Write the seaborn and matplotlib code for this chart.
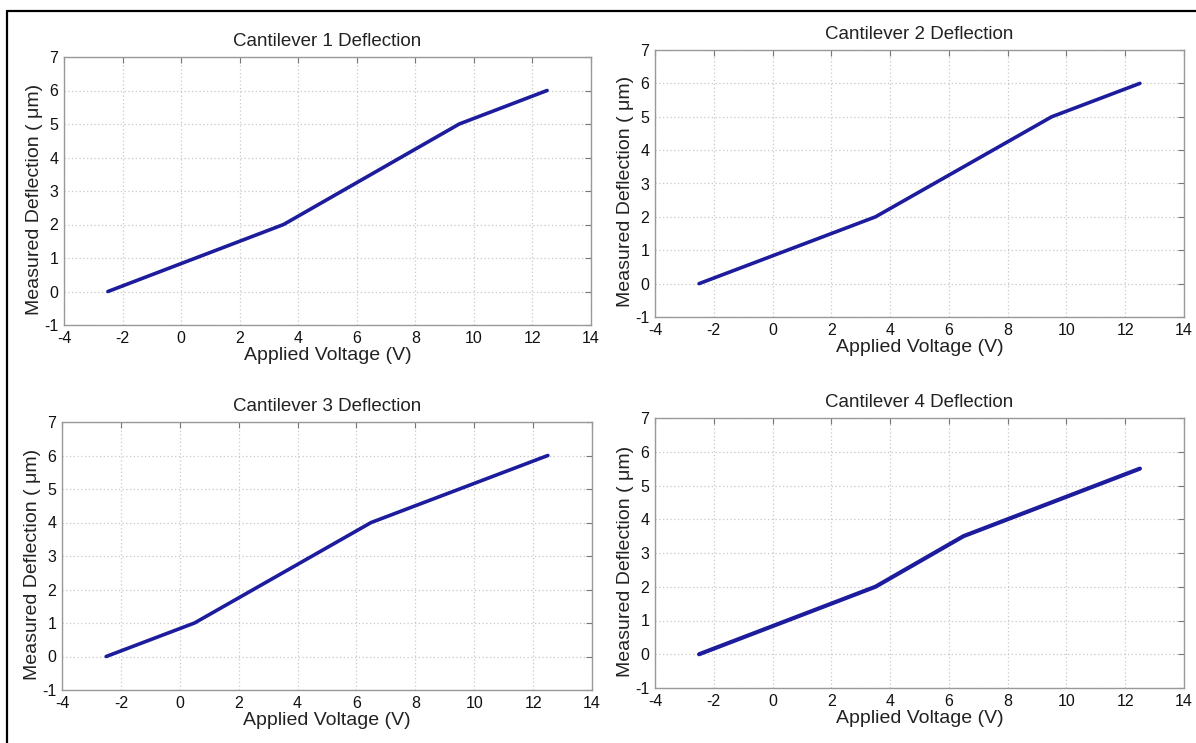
import matplotlib
matplotlib.use("Agg")
import matplotlib.pyplot as plt
import seaborn as sns
import pandas as pd
from matplotlib.lines import Line2D

# Data
titles = ["Cantilever 1 Deflection", "Cantilever 2 Deflection",
          "Cantilever 3 Deflection", "Cantilever 4 Deflection"]
volt_1 = [-2.5, 3.5, 9.5, 12.5]
defl_1 = [0.0, 2.0, 5.0, 6.0]
volt_2 = [-2.5, 3.5, 9.5, 12.5]
defl_2 = [0.0, 2.0, 5.0, 6.0]
volt_3 = [-2.5, 0.5, 6.5, 12.5]
defl_3 = [0.0, 1.0, 4.0, 6.0]
volt_4 = [-2.5, 3.5, 6.5, 12.5]
defl_4 = [0.0, 2.0, 3.5, 5.5]
x_ticks = [-4, -2, 0, 2, 4, 6, 8, 10, 12, 14]
y_ticks = [-1, 0, 1, 2, 3, 4, 5, 6, 7]

series = [(volt_1, defl_1), (volt_2, defl_2), (volt_3, defl_3), (volt_4, defl_4)]

sns.set_style("white")
plt.rcParams["font.family"] = ["Liberation Sans", "DejaVu Sans"]

W, H = 1196, 743
fig = plt.figure(figsize=(W / 100, H / 100), dpi=100)

# axes boxes in pixels: left, top, right, bottom
boxes = [(64, 57, 591, 325), (655, 50, 1184, 317),
         (62, 422, 592, 690), (655, 418, 1184, 688)]

for i, ((xs, ys), (l, t, r, b)) in enumerate(zip(series, boxes)):
    ax = fig.add_axes([l / W, 1 - b / H, (r - l) / W, (b - t) / H])
    df = pd.DataFrame({"Applied Voltage (V)": xs, "Deflection": ys})
    sns.lineplot(data=df, x="Applied Voltage (V)", y="Deflection", ax=ax,
                 color="#1c1c9c", linewidth=2.6 if i != 3 else 3.0)
    ax.set_xlim(-4, 14)
    ax.set_ylim(-1, 7)
    ax.set_xticks(x_ticks)
    ax.set_yticks(y_ticks)
    ax.set_xticklabels([str(v) for v in x_ticks])
    ax.set_yticklabels([str(v) for v in y_ticks])
    ax.grid(True, color="#c8c8c8", linestyle=(0, (1, 2)), linewidth=0.9)
    ax.tick_params(direction="in", length=4, width=0.8, color="#777777",
                   labelsize=11.5, labelcolor="#111111", pad=4,
                   top=True, right=True)
    for s in ax.spines.values():
        s.set_color("#999999")
        s.set_linewidth(1.0)
    ax.set_title(titles[i], fontsize=13.5, pad=8, color="#222222")
    ax.set_xlabel("Applied Voltage (V)", fontsize=14, labelpad=1, color="#222222")
    ax.set_ylabel("Measured Deflection ( \u03bcm)", fontsize=14, labelpad=2,
                  color="#222222")
    ax.yaxis.set_label_coords(-0.04, 0.47)

# figure border (top and left lines)
fig.add_artist(Line2D([7 / W, 1.0], [1 - 11 / H, 1 - 11 / H], color="black",
                      linewidth=1.6, transform=fig.transFigure))
fig.add_artist(Line2D([7 / W, 7 / W], [1 - 11 / H, 0.0], color="black",
                      linewidth=1.6, transform=fig.transFigure))

fig.savefig("out.png", dpi=100)
